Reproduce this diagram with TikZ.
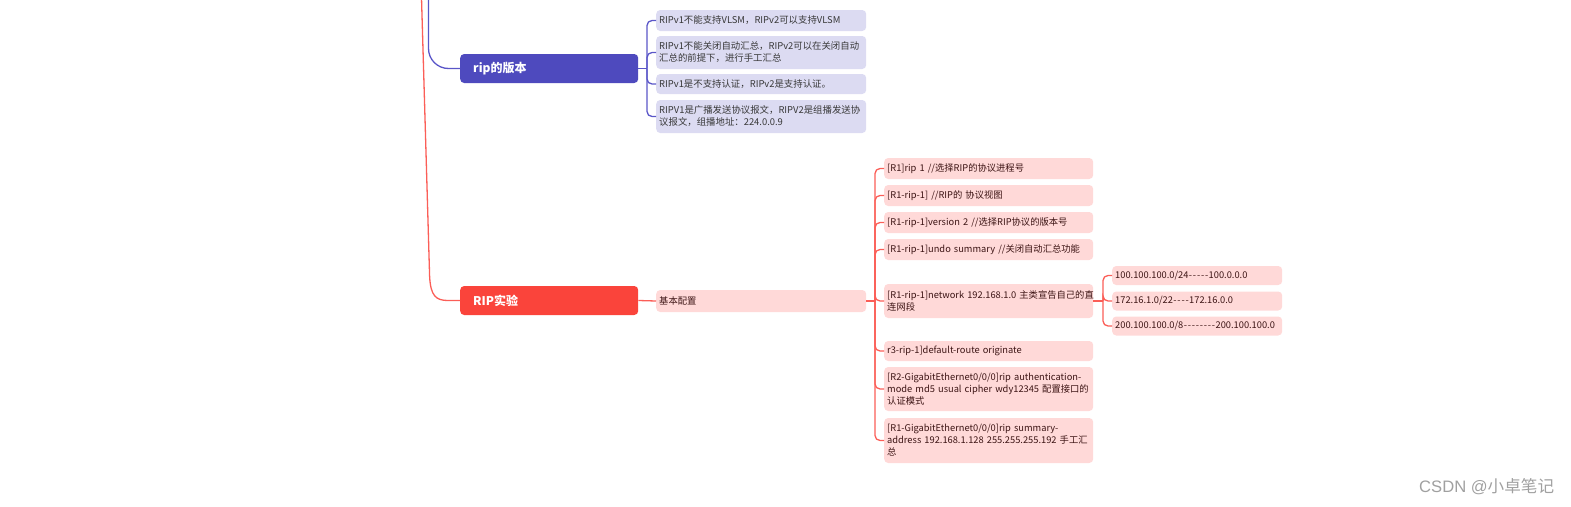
\documentclass[tikz,border=0pt]{standalone}
\usepackage{fontspec}
\setmainfont{Noto Sans CJK SC}
\newfontfamily\wmlatin{Liberation Sans}
\definecolor{blueM}{HTML}{4E4ABE}
\definecolor{blueF}{HTML}{DCDBF2}
\definecolor{blueL}{HTML}{5A56C8}
\definecolor{blueT}{HTML}{383838}
\definecolor{redM}{HTML}{FA443B}
\definecolor{redF}{HTML}{FFD9D8}
\definecolor{redL}{HTML}{FB5E57}
\definecolor{redT}{HTML}{3C1414}
\definecolor{wmT}{HTML}{A0A0A0}
\newcommand\oneline[1]{\mbox{#1}}
\newcommand\dsh{\kern0.4pt-\kern0.4pt}
\begin{document}
\begin{tikzpicture}[x=1pt,y=-1pt,
  bl/.style={draw=blueL, line width=1.3pt},
  rl/.style={draw=redL, line width=1.3pt},
  mainbox/.style={rounded corners=4pt, anchor=west, text=white, font=\fontsize{12}{14}\selectfont\bfseries, inner xsep=13pt, inner ysep=0pt, text width=152pt, minimum height=29pt, align=left},
  bchild/.style={fill=blueF, rounded corners=4pt, anchor=west, text=blueT, font=\fontsize{9.4}{12}\selectfont, inner xsep=3pt, inner ysep=0pt, text width=204pt, align=left},
  rchild/.style={fill=redF, rounded corners=4pt, anchor=west, text=redT, font=\fontsize{9.3}{12}\selectfont, inner xsep=3pt, inner ysep=0pt, text width=203pt, align=left},
  nchild/.style={rchild, text width=164pt}
]
\useasboundingbox (0,0) rectangle (1571,506);

% main topic nodes
\node[mainbox, fill=blueM] (rip) at (460,68.5) {rip的版本};
\node[mainbox, fill=redM] (exp) at (460,300.5) {RIP实验};

% blue children
\node[bchild, minimum height=21pt] (b1) at (656,20.5) {\oneline{RIPv1不能支持VLSM，RIPv2可以支持VLSM}};
\node[bchild, minimum height=33pt] (b2) at (656,52.5) {\oneline{RIPv1不能关闭自动汇总，RIPv2可以在关闭自动}\\\oneline{汇总的前提下，进行手工汇总}};
\node[bchild, minimum height=20pt] (b3) at (656,84) {\oneline{RIPv1是不支持认证，RIPv2是支持认证。}};
\node[bchild, minimum height=33pt] (b4) at (656,116.5) {\oneline{RIPV1是广播发送协议报文，RIPV2是组播发送协}\\\oneline{议报文，组播地址：224.0.0.9}};

% red children
\node[rchild, text width=204pt, minimum height=22pt] (base) at (656,301) {基本配置};
\node[rchild, minimum height=21pt] (p1) at (884,168.5) {\oneline{[R1]rip 1 //选择RIP的协议进程号}};
\node[rchild, minimum height=21pt] (p2) at (884,195.5) {\oneline{[R1-rip-1] //RIP的 协议视图}};
\node[rchild, minimum height=21pt] (p3) at (884,222.5) {\oneline{[R1-rip-1]version 2 //选择RIP协议的版本号}};
\node[rchild, minimum height=21pt] (p4) at (884,249.5) {\oneline{[R1-rip-1]undo summary //关闭自动汇总功能}};
\node[rchild, minimum height=34pt] (p5) at (884,301) {\oneline{[R1-rip-1]network 192.168.1.0 主类宣告自己的直}\\\oneline{连网段}};
\node[rchild, minimum height=20pt] (p6) at (884,351) {\oneline{r3-rip-1]default-route originate}};
\node[rchild, minimum height=44pt] (p7) at (884,389) {\oneline{[R2-GigabitEthernet0/0/0]rip authentication-}\\\oneline{mode md5 usual cipher wdy12345 配置接口的}\\\oneline{认证模式}};
\node[rchild, minimum height=45pt] (p8) at (884,440.5) {\oneline{[R1-GigabitEthernet0/0/0]rip summary-}\\\oneline{address 192.168.1.128 255.255.255.192 手工汇}\\\oneline{总}};

% network children
\node[nchild, minimum height=19pt] (n1) at (1112,275.5) {\oneline{100.100.100.0/24\dsh\dsh\dsh\dsh\dsh100.0.0.0}};
\node[nchild, minimum height=19pt] (n2) at (1112,301) {\oneline{172.16.1.0/22\dsh\dsh\dsh\dsh172.16.0.0}};
\node[nchild, minimum height=19pt] (n3) at (1112,326) {\oneline{200.100.100.0/8\dsh\dsh\dsh\dsh\dsh\dsh\dsh\dsh200.100.100.0}};

% main branches from off-picture root
\coordinate (btop) at (428.5,-2);
\coordinate (rtop) at (421.5,-2);
\coordinate (rbend) at (429.6,276);
\draw[bl, rounded corners=20pt] (btop) |- (rip.west);
\draw[rl] (rtop) -- (rbend) .. controls (430.5,296) and (436,300.5) .. (448,300.5) -- (exp.west);

% blue bracket
\coordinate (bj) at (647,68.5);
\draw[bl] (rip.east) -- (bj);
\foreach \c in {b1,b2,b3,b4} \draw[bl, rounded corners=5pt] (bj) |- (\c.west);

% red bracket
\draw[rl] (exp.east) -- (base.west);
\coordinate (rj) at (875,301);
\draw[rl] (base.east) -- (rj);
\foreach \c in {p1,p2,p3,p4,p5,p6,p7,p8} \draw[rl, rounded corners=5pt] (rj) |- (\c.west);

% network bracket
\coordinate (nj) at (1103,301);
\draw[rl] (p5.east) -- (nj);
\foreach \c in {n1,n2,n3} \draw[rl, rounded corners=5pt] (nj) |- (\c.west);

% watermark
\node[anchor=west, text=wmT, font=\fontsize{16.6}{18}\selectfont, inner sep=0pt] (wm) at (1419,487) {{\wmlatin CSDN @}小卓笔记};
\end{tikzpicture}
\end{document}
